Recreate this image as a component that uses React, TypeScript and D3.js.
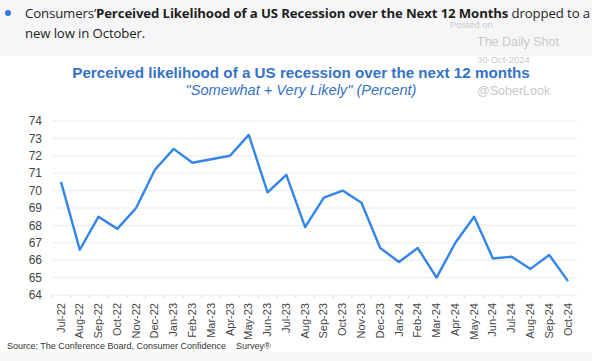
import React from "react";
import * as d3 from "d3";

// Monthly survey readings, Jul-22 .. Oct-24
const months = [
  "Jul-22", "Aug-22", "Sep-22", "Oct-22", "Nov-22", "Dec-22",
  "Jan-23", "Feb-23", "Mar-23", "Apr-23", "May-23", "Jun-23",
  "Jul-23", "Aug-23", "Sep-23", "Oct-23", "Nov-23", "Dec-23",
  "Jan-24", "Feb-24", "Mar-24", "Apr-24", "May-24", "Jun-24",
  "Jul-24", "Aug-24", "Sep-24", "Oct-24",
];
const likelihood = [
  70.5, 66.6, 68.5, 67.8, 69.0, 71.2,
  72.4, 71.6, 71.8, 72.0, 73.2, 69.9,
  70.9, 67.9, 69.6, 70.0, 69.3, 66.7,
  65.9, 66.7, 65.0, 67.0, 68.5, 66.1,
  66.2, 65.5, 66.3, 64.8,
];
const yTicks = [64, 65, 66, 67, 68, 69, 70, 71, 72, 73, 74];

const W = 592;
const H = 361;
const margin = { top: 121, right: 15, bottom: 66, left: 52 };

const App = () => {
  const x = d3
    .scalePoint<string>()
    .domain(months)
    .range([61, 568]);

  const y = d3
    .scaleLinear()
    .domain([64, 74])
    .range([H - margin.bottom, margin.top]);

  const line = d3
    .line<number>()
    .x((_, i) => x(months[i]) as number)
    .y((d) => y(d));

  const blue = "#3672c6";
  const wm = "#c9c9c9";

  return (
    <svg
      width={W}
      height={H}
      style={{ position: "absolute", left: 0, top: 0, fontFamily: "Liberation Sans, Arial, sans-serif" }}
    >
      <rect x={0} y={0} width={W} height={H} fill="#ffffff" />
      {/* header band */}
      <rect x={0} y={0} width={W} height={56} fill="#f6f6f8" />
      <rect x={0} y={352} width={W} height={H - 352} fill="#f6f6f8" />

      <circle cx={8} cy={13} r={3} fill="#2f7de1" />
      <text x={25} y={18} fontSize={13.2} fill="#1e1e1e" fontFamily="Open Sans, sans-serif" letterSpacing={-0.12}>
        Consumers’
        <tspan fontWeight="bold">Perceived Likelihood of a US Recession over the Next 12 Months</tspan>
        {" dropped to a"}
      </text>
      <text x={25} y={38} fontSize={13.2} fill="#1e1e1e" fontFamily="Open Sans, sans-serif" letterSpacing={-0.12}>
        new low in October.
      </text>

      {/* watermark */}
      <text x={450} y={28} fontSize={9.5} fill={wm}>Posted on</text>
      <text x={477} y={46} fontSize={12.5} fill={wm}>The Daily Shot</text>
      <text x={477} y={63} fontSize={9.5} fill={wm}>30-Oct-2024</text>
      <text x={477} y={95} fontSize={12.5} fill={wm}>@SoberLook</text>

      {/* titles */}
      <text x={301} y={78} textAnchor="middle" fontSize={15.2} fontWeight="bold" fill={blue}>
        Perceived likelihood of a US recession over the next 12 months
      </text>
      <text x={301} y={95} textAnchor="middle" fontSize={14.6} fontStyle="italic" fill={blue}>
        "Somewhat + Very Likely" (Percent)
      </text>

      {/* grid + y labels */}
      {yTicks.map((t) => (
        <g key={t}>
          <line x1={margin.left} x2={W - margin.right} y1={y(t)} y2={y(t)} stroke="#ececec" strokeWidth={1} />
          <text x={42} y={y(t)} dy="0.35em" textAnchor="end" fontSize={12} fill="#444">
            {t}
          </text>
        </g>
      ))}

      {/* x ticks + labels */}
      {months.map((m) => (
        <g key={m} transform={`translate(${x(m)},${y(64)})`}>
          <line x1={-9.4} x2={-9.4} y1={0} y2={3} stroke="#d8d8d8" />
          <text
            transform="translate(3.5,8) rotate(-90)"
            textAnchor="end"
            fontSize={11}
            fill="#444"
          >
            {m}
          </text>
        </g>
      ))}

      <path d={line(likelihood) ?? ""} fill="none" stroke="#3385ea" strokeWidth={2.4} strokeLinejoin="round" />

      <text x={7} y={349} fontSize={9} fill="#333">
        {"Source: The Conference Board, Consumer Confidence\u00a0\u00a0\u00a0\u00a0Survey®"}
      </text>
    </svg>
  );
};

export default App;
